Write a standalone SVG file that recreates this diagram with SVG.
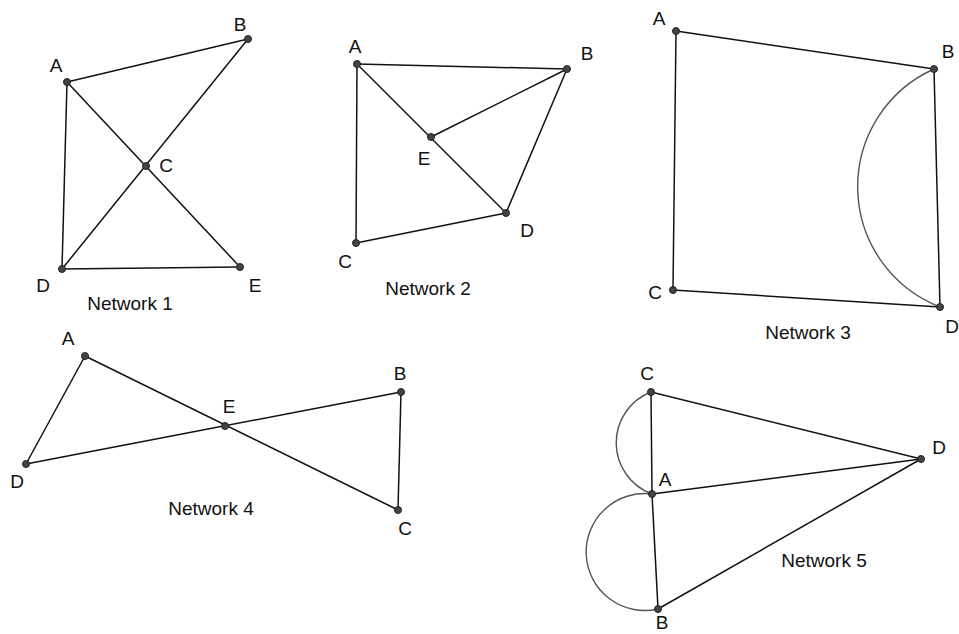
<svg xmlns="http://www.w3.org/2000/svg" width="959" height="634" viewBox="0 0 959 634">
<style>
.e{stroke:#111;stroke-width:1.5;fill:none}
.arc{stroke:#555;stroke-width:1.4;fill:none}
.n{fill:#444;stroke:#222;stroke-width:1}
text{font-family:"Liberation Sans",Arial,sans-serif;font-size:19px;fill:#111}
.t{text-anchor:middle}
</style>
<rect width="959" height="634" fill="#fff"/>
<g id="connectors">
<!-- Network 1 -->
<line class="e" x1="67" y1="82" x2="248" y2="39"/>
<line class="e" x1="67" y1="82" x2="62" y2="269"/>
<line class="e" x1="67" y1="82" x2="240" y2="267"/>
<line class="e" x1="248" y1="39" x2="62" y2="269"/>
<line class="e" x1="62" y1="269" x2="240" y2="267"/>
<!-- Network 2 -->
<line class="e" x1="357" y1="64" x2="567" y2="69"/>
<line class="e" x1="357" y1="64" x2="356" y2="243"/>
<line class="e" x1="357" y1="64" x2="506" y2="213"/>
<line class="e" x1="431" y1="137" x2="567" y2="69"/>
<line class="e" x1="567" y1="69" x2="506" y2="213"/>
<line class="e" x1="356" y1="243" x2="506" y2="213"/>
<!-- Network 3 -->
<line class="e" x1="676" y1="31" x2="934" y2="69"/>
<line class="e" x1="676" y1="31" x2="673" y2="290"/>
<line class="e" x1="934" y1="69" x2="940" y2="307"/>
<line class="e" x1="673" y1="290" x2="940" y2="307"/>
<path class="arc" d="M934 69 A129 129 0 0 0 940 307"/>
<!-- Network 4 -->
<line class="e" x1="85" y1="356" x2="26" y2="464"/>
<line class="e" x1="85" y1="356" x2="398" y2="510"/>
<line class="e" x1="26" y1="464" x2="401" y2="392"/>
<line class="e" x1="401" y1="392" x2="398" y2="510"/>
<!-- Network 5 -->
<line class="e" x1="651" y1="392" x2="921" y2="459"/>
<line class="e" x1="651" y1="392" x2="652" y2="494"/>
<line class="e" x1="652" y1="494" x2="921" y2="459"/>
<line class="e" x1="652" y1="494" x2="658" y2="609"/>
<line class="e" x1="658" y1="609" x2="921" y2="459"/>
<path class="arc" d="M651 392 A54.5 54.5 0 0 0 652 494"/>
<path class="arc" d="M652 494 A58.5 58.5 0 1 0 658 609"/>
</g>
<g id="network1">
<g id="n1-A"><circle class="n" cx="67" cy="82" r="3.5"/><text class="t" x="56" y="72">A</text></g>
<g id="n1-B"><circle class="n" cx="248" cy="39" r="3.5"/><text class="t" x="240" y="31">B</text></g>
<g id="n1-C"><circle class="n" cx="146" cy="166" r="3.5"/><text class="t" x="166" y="172">C</text></g>
<g id="n1-D"><circle class="n" cx="62" cy="269" r="3.5"/><text class="t" x="43" y="292">D</text></g>
<g id="n1-E"><circle class="n" cx="240" cy="267" r="3.5"/><text class="t" x="255" y="292">E</text></g>
<text id="n1-title" class="t" x="130" y="310">Network 1</text>
</g>
<g id="network2">
<g id="n2-A"><circle class="n" cx="357" cy="64" r="3.5"/><text class="t" x="355" y="53">A</text></g>
<g id="n2-B"><circle class="n" cx="567" cy="69" r="3.5"/><text class="t" x="587" y="60">B</text></g>
<g id="n2-E"><circle class="n" cx="431" cy="137" r="3.5"/><text class="t" x="424" y="165">E</text></g>
<g id="n2-D"><circle class="n" cx="506" cy="213" r="3.5"/><text class="t" x="527" y="237">D</text></g>
<g id="n2-C"><circle class="n" cx="356" cy="243" r="3.5"/><text class="t" x="345" y="268">C</text></g>
<text id="n2-title" class="t" x="428" y="295">Network 2</text>
</g>
<g id="network3">
<g id="n3-A"><circle class="n" cx="676" cy="31" r="3.5"/><text class="t" x="659" y="25">A</text></g>
<g id="n3-B"><circle class="n" cx="934" cy="69" r="3.5"/><text class="t" x="948" y="58">B</text></g>
<g id="n3-C"><circle class="n" cx="673" cy="290" r="3.5"/><text class="t" x="655" y="299">C</text></g>
<g id="n3-D"><circle class="n" cx="940" cy="307" r="3.5"/><text class="t" x="952" y="333">D</text></g>
<text id="n3-title" class="t" x="808" y="339">Network 3</text>
</g>
<g id="network4">
<g id="n4-A"><circle class="n" cx="85" cy="356" r="3.5"/><text class="t" x="68" y="345">A</text></g>
<g id="n4-B"><circle class="n" cx="401" cy="392" r="3.5"/><text class="t" x="400" y="380">B</text></g>
<g id="n4-E"><circle class="n" cx="225" cy="426" r="3.5"/><text class="t" x="229" y="413">E</text></g>
<g id="n4-D"><circle class="n" cx="26" cy="464" r="3.5"/><text class="t" x="17" y="488">D</text></g>
<g id="n4-C"><circle class="n" cx="398" cy="510" r="3.5"/><text class="t" x="405" y="535">C</text></g>
<text id="n4-title" class="t" x="211" y="515">Network 4</text>
</g>
<g id="network5">
<g id="n5-C"><circle class="n" cx="651" cy="392" r="3.5"/><text class="t" x="647" y="380">C</text></g>
<g id="n5-D"><circle class="n" cx="921" cy="459" r="3.5"/><text class="t" x="939" y="454">D</text></g>
<g id="n5-A"><circle class="n" cx="652" cy="494" r="3.5"/><text class="t" x="665" y="486">A</text></g>
<g id="n5-B"><circle class="n" cx="658" cy="609" r="3.5"/><text class="t" x="662" y="629">B</text></g>
<text id="n5-title" class="t" x="824" y="567">Network 5</text>
</g>
</svg>
